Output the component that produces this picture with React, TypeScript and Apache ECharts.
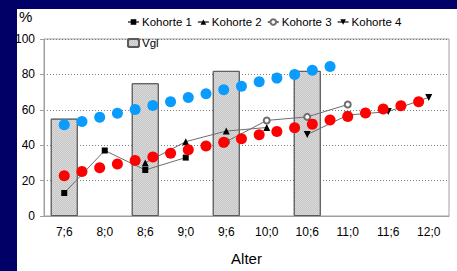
import React, { useEffect, useRef } from "react";
import * as echarts from "echarts";

const categories = ["7;6", "8;0", "8;6", "9;0", "9;6", "10;0", "10;6", "11;0", "11;6", "12;0"];
const yTicks = [0, 20, 40, 60, 80, 100];
const vgl = [55, null, 75, null, 82, null, 82, null, null, null];
const kohorte1 = [13, 37, 26, 33, null, null, null, null, null, null];
const kohorte2 = [null, null, 30, 42, 48, 50, null, null, null, null];
const kohorte3 = [null, null, null, null, 42, 54, 56, 63, null, null];
const kohorte4 = [null, null, null, null, null, null, 46, 57, 59, 67];
const blueDots = [51.5, 53.4, 55.8, 58.0, 60.2, 62.4, 64.6, 66.9, 69.1, 71.3, 73.3, 75.9, 77.9, 79.9, 82.3, 84.5];
const redDots = [22.8, 25.2, 27.2, 29.4, 31.3, 33.3, 35.5, 37.4, 39.6, 41.6, 43.6, 45.9, 47.7, 49.8, 51.9, 54.3, 56.2, 58.2, 60.4, 62.3, 64.5];

const FONT = "'Liberation Sans', Arial, sans-serif";

export default function App() {
  const ref = useRef<HTMLDivElement>(null);
  useEffect(() => {
    document.body.style.margin = "0";
    if (!ref.current) return;
    const chart = echarts.init(ref.current, null, { renderer: "svg" });
    const kLine = { color: "#6e6e6e", width: 1 };
    chart.setOption({
      animation: false,
      backgroundColor: "transparent",
      textStyle: { fontFamily: FONT },
      graphic: [
        { type: "text", x: 19, y: 9, style: { text: "%", font: `15px ${FONT}`, fill: "#000" } },
      ],
      grid: { left: 44, top: 39, width: 405, height: 181, show: true, borderColor: "#a0a0a0", borderWidth: 1, backgroundColor: "transparent" },
      legend: [
        {
          data: ["Kohorte 1", "Kohorte 2", "Kohorte 3", "Kohorte 4"],
          left: 127, top: 16, padding: 0, itemWidth: 11, itemHeight: 7, itemGap: 5,
          textStyle: { fontSize: 11.5, color: "#000", fontFamily: FONT, padding: [0, 0, 0, -2] },
        },
        {
          data: ["Vgl"],
          left: 127, top: 37, padding: 0, itemWidth: 11, itemHeight: 8,
          textStyle: { fontSize: 11.5, color: "#000", fontFamily: FONT, padding: [0, 0, 0, -2] },
        },
      ],
      xAxis: [
        {
          type: "category",
          data: categories,
          name: "Alter",
          nameLocation: "middle",
          nameGap: 35,
          nameTextStyle: { fontSize: 15, color: "#000", fontFamily: FONT },
          axisLine: { onZero: false, lineStyle: { color: "#a0a0a0" } },
          axisTick: { alignWithLabel: true, inside: true, length: 5, lineStyle: { color: "#a0a0a0" } },
          axisLabel: { fontSize: 12, color: "#000", margin: 10, fontFamily: FONT },
        },
        { type: "value", show: false, min: -1.1428, max: 21.713, axisLine: { onZero: false } },
      ],
      yAxis: {
        type: "value",
        min: yTicks[0],
        max: yTicks[yTicks.length - 1],
        interval: 20,
        axisLine: { show: true, onZero: false, lineStyle: { color: "#a0a0a0" } },
        axisTick: { show: true, length: 4, lineStyle: { color: "#a0a0a0" } },
        axisLabel: { fontSize: 12, color: "#000", margin: 9, fontFamily: FONT },
        splitLine: { lineStyle: { color: "#808080", type: [1, 2], width: 1 } },
      },
      series: [
        {
          name: "Vgl", type: "bar", data: vgl, barWidth: 27, z: 1,
          itemStyle: {
            color: "#dadada", borderColor: "#5a5a5a", borderWidth: 1,
            decal: {
              symbol: "rect", symbolSize: 1, color: "#c6c6c6", backgroundColor: "#efefef",
              dashArrayX: [[1, 1], [0, 1, 1, 0]], dashArrayY: [1, 0],
            },
          },
        },
        {
          name: "Kohorte 1", type: "line", data: kohorte1, symbol: "rect", symbolSize: 6, z: 3,
          lineStyle: kLine, itemStyle: { color: "#000" },
        },
        {
          name: "Kohorte 2", type: "line", data: kohorte2, symbol: "triangle", symbolSize: 7, z: 3,
          lineStyle: kLine, itemStyle: { color: "#000" },
        },
        {
          name: "Kohorte 3", type: "line", data: kohorte3, symbol: "emptyCircle", symbolSize: 6, z: 3,
          lineStyle: kLine, itemStyle: { color: "#6e6e6e", borderWidth: 1 },
        },
        {
          name: "Kohorte 4", type: "line", data: kohorte4, symbol: "triangle", symbolRotate: 180, symbolSize: 7, z: 3,
          lineStyle: kLine, itemStyle: { color: "#000" },
        },
        {
          name: "blau", type: "scatter", xAxisIndex: 1, symbolSize: 11, z: 4,
          data: blueDots.map((v, i) => [i, v]),
          itemStyle: { color: "#0a9bff", opacity: 1 },
        },
        {
          name: "rot", type: "scatter", xAxisIndex: 1, symbolSize: 11, z: 4,
          data: redDots.map((v, i) => [i, v]),
          itemStyle: { color: "#ff0000", opacity: 1 },
        },
      ],
    });
    return () => chart.dispose();
  }, []);
  return (
    <div style={{ position: "fixed", left: 0, top: 0, right: 0, bottom: 0, background: "#000066", overflow: "hidden" }}>
      <div style={{ position: "absolute", left: 17, top: 9, right: 0, bottom: 0, background: "#ffffff" }} />
      <div ref={ref} style={{ position: "absolute", left: 0, top: 0, width: 457, height: 271 }} />
    </div>
  );
}
